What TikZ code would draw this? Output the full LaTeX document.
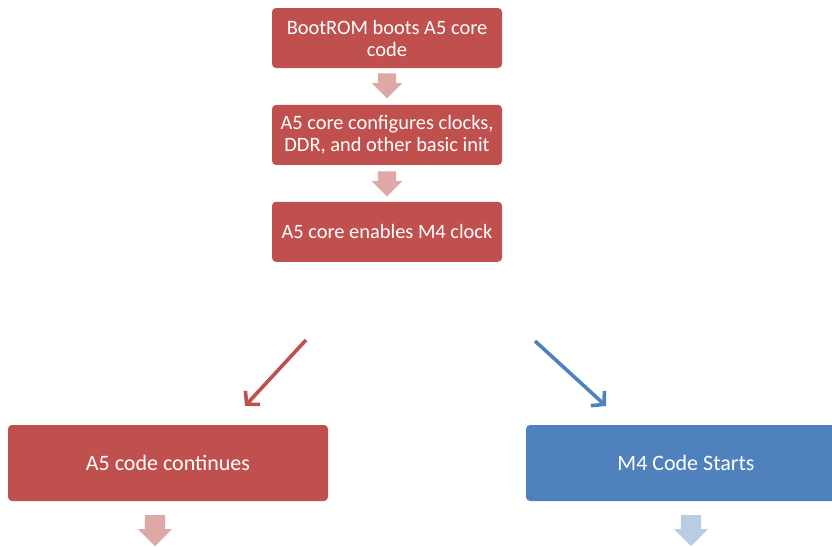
\documentclass[tikz,border=0pt]{standalone}
\usepackage{fontspec}
\setmainfont{Carlito}
\usetikzlibrary{arrows.meta,positioning,shapes.arrows}
\definecolor{bootred}{RGB}{192,80,77}
\definecolor{mfourblue}{RGB}{79,129,189}
\definecolor{palered}{RGB}{222,168,166}
\definecolor{paleblue}{RGB}{184,204,228}
\tikzset{
  stepbox/.style={
    rectangle,
    rounded corners=4pt,
    minimum width=230pt,
    minimum height=60pt,
    inner sep=2pt,
    align=center,
    text=white,
    font=\fontsize{20.4}{22}\selectfont
  },
  bigbox/.style={
    stepbox,
    minimum width=320pt,
    minimum height=76pt,
    font=\fontsize{22}{26}\selectfont
  },
  blockarrow/.style={
    single arrow,
    shape border rotate=270,
    minimum height=25pt,
    single arrow head extend=6pt,
    inner xsep=9pt,
    inner ysep=0pt
  },
  split/.style={line width=3.6pt,-{Straight Barb[length=9pt,width=20pt]}}
}

\begin{document}
\begin{tikzpicture}[x=1pt,y=-1pt]
  \useasboundingbox (0,0) rectangle (832,546);
  \fill[white] (0,0) rectangle (832,546);

  % Boot chain on the A5 core
  \node[stepbox,fill=bootred] (bootrom) at (387,38)
    {BootROM boots A5 core\\code};
  \node[blockarrow,fill=palered,below=5pt of bootrom] (firstarrow) {};
  \node[stepbox,fill=bootred,below=6pt of firstarrow] (clocks)
    {A5 core configures clocks,\\DDR, and other basic init};
  \node[blockarrow,fill=palered,below=6pt of clocks] (secondarrow) {};
  \node[stepbox,fill=bootred,below=5pt of secondarrow] (mclock)
    {A5 core enables M4 clock};

  % Split into two cores
  \coordinate (redstart) at (306,340);
  \coordinate (redend) at (245,406);
  \coordinate (bluestart) at (535,341);
  \coordinate (blueend) at (606,406);
  \draw[split,draw=bootred] (redstart) -- (redend);
  \draw[split,draw=mfourblue] (bluestart) -- (blueend);

  \node[bigbox,fill=bootred] (afive) at (168,463) {A5 code continues};
  \node[bigbox,fill=mfourblue] (mfour) at (686,463) {M4 Code Starts};

  \node[blockarrow,fill=palered,minimum height=31pt,inner xsep=10pt,
    single arrow head extend=7pt,anchor=north] (afivenext) at (155,515) {};
  \node[blockarrow,fill=paleblue,minimum height=31pt,inner xsep=10pt,
    single arrow head extend=7pt,anchor=north] (mfournext) at (691,515) {};
\end{tikzpicture}
\end{document}
